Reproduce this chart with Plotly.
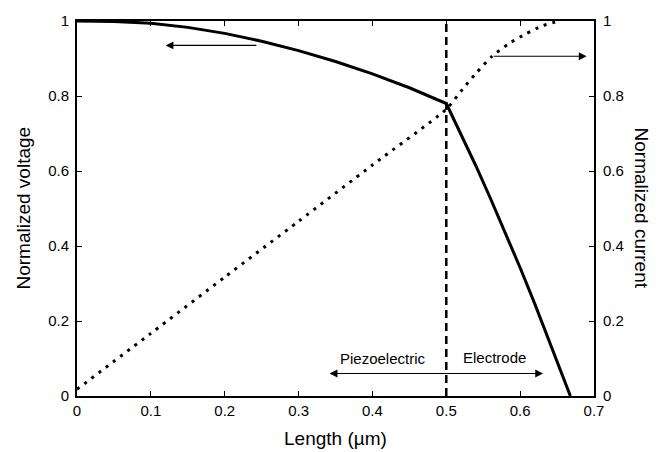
import plotly.graph_objects as go

# Normalized voltage along the length
volt_x = [0.0, 0.05, 0.1, 0.15, 0.2, 0.25, 0.3, 0.35, 0.4, 0.45, 0.5,
          0.52, 0.54, 0.56, 0.58, 0.6, 0.62, 0.64, 0.655, 0.668]
volt_y = [1.0, 0.999, 0.994, 0.983, 0.967, 0.946, 0.921, 0.892, 0.859, 0.822, 0.78,
          0.698, 0.614, 0.526, 0.435, 0.342, 0.245, 0.145, 0.068, 0.0]

# Normalized current along the length
curr_x = [0.0, 0.1, 0.2, 0.3, 0.4, 0.5, 0.522, 0.54, 0.562, 0.585, 0.608, 0.63, 0.653]
curr_y = [0.018, 0.167, 0.317, 0.466, 0.616, 0.765, 0.818, 0.86, 0.906, 0.94, 0.966, 0.987, 1.0]

# Interface between piezoelectric and electrode
interface_x = [0.5, 0.5]
interface_y = [0.0, 1.0]

x_ticks = [0, 0.1, 0.2, 0.3, 0.4, 0.5, 0.6, 0.7]
x_tick_text = ["0", "0.1", "0.2", "0.3", "0.4", "0.5", "0.6", "0.7"]
y_ticks = [0, 0.2, 0.4, 0.6, 0.8, 1.0]
y_tick_text = ["0", "0.2", "0.4", "0.6", "0.8", "1"]

FONT = "Liberation Sans, Arial, sans-serif"
TICK_SIZE = 15
TITLE_SIZE = 19

fig = go.Figure()
fig.add_trace(go.Scatter(x=volt_x, y=volt_y, mode="lines",
                         line=dict(color="black", width=3), showlegend=False))
fig.add_trace(go.Scatter(x=curr_x, y=curr_y, mode="lines", yaxis="y2",
                         line=dict(color="black", width=3, dash="3px,6px", shape="spline", smoothing=0.6),
                         showlegend=False))
fig.add_trace(go.Scatter(x=interface_x, y=interface_y, mode="lines",
                         line=dict(color="black", width=2.5, dash="8px,5px"), showlegend=False))

axis_common = dict(showgrid=False, zeroline=False, ticks="inside", ticklen=5,
                   tickwidth=1, tickcolor="black", linecolor="black", linewidth=2,
                   tickfont=dict(family=FONT, size=TICK_SIZE, color="black"))

fig.update_layout(
    width=665, height=452,
    margin=dict(l=77, r=71, t=12, b=56),
    paper_bgcolor="white", plot_bgcolor="white",
    font=dict(family=FONT, size=TICK_SIZE, color="black"),
    xaxis=dict(range=[0, 0.7], tickvals=x_ticks, ticktext=x_tick_text,
               showline=True, mirror="ticks", **axis_common),
    yaxis=dict(range=[0, 1], tickvals=y_ticks, ticktext=y_tick_text,
               showline=True, mirror=False, ticklabelstandoff=3, **axis_common),
    yaxis2=dict(range=[0, 1], tickvals=y_ticks, ticktext=y_tick_text,
                overlaying="y", side="right", showline=True, ticklabelstandoff=4,
                **axis_common),
)

# Axis titles
fig.add_annotation(text="Length (µm)", xref="paper", yref="paper",
                   x=0.5, y=-0.1146, yanchor="middle", showarrow=False,
                   font=dict(family=FONT, size=TITLE_SIZE, color="black"))
fig.add_annotation(text="Normalized voltage", xref="paper", yref="paper",
                   x=-0.1044, y=0.5, xanchor="center", showarrow=False, textangle=-90,
                   font=dict(family=FONT, size=TITLE_SIZE, color="black"))
fig.add_annotation(text="Normalized current", xref="paper", yref="paper",
                   x=1.0928, y=0.5, xanchor="center", showarrow=False, textangle=90,
                   font=dict(family=FONT, size=TITLE_SIZE, color="black"))

# Arrows pointing to axes
fig.add_annotation(x=0.12, y=0.935, ax=0.245, ay=0.935, xref="x", yref="y",
                   axref="x", ayref="y", text="", showarrow=True,
                   arrowhead=2, arrowsize=1.3, arrowwidth=1.2, arrowcolor="black")
fig.add_annotation(x=0.69, y=0.906, ax=0.562, ay=0.906, xref="x", yref="y",
                   axref="x", ayref="y", text="", showarrow=True,
                   arrowhead=2, arrowsize=1.3, arrowwidth=1.2, arrowcolor="black")

# Region double arrow
fig.add_annotation(x=0.631, y=0.06, ax=0.34, ay=0.06, xref="x", yref="y",
                   axref="x", ayref="y", text="", showarrow=True,
                   arrowhead=2, startarrowhead=2, arrowside="end+start",
                   arrowsize=1.3, startarrowsize=1.3, arrowwidth=1.2, arrowcolor="black")
fig.add_annotation(x=0.414, y=0.1, xref="x", yref="y", text="Piezoelectric",
                   showarrow=False, font=dict(family=FONT, size=15, color="black"))
fig.add_annotation(x=0.565, y=0.102, xref="x", yref="y", text="Electrode",
                   showarrow=False, font=dict(family=FONT, size=15, color="black"))

fig.write_html("out.html")
